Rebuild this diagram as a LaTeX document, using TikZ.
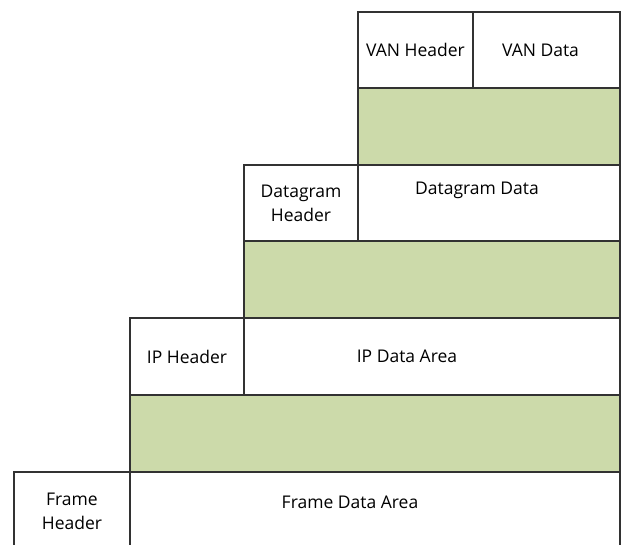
\documentclass[tikz,border=0pt]{standalone}
\usepackage{fontspec}
\setmainfont{Open Sans}
\usetikzlibrary{positioning, calc}
\definecolor{padGreen}{RGB}{204, 218, 170}
\definecolor{lineGray}{RGB}{50, 50, 50}

\begin{document}
\begin{tikzpicture}[x=1pt, y=-1pt,
    cell/.style={draw=lineGray, line width=1.7pt, fill=white, inner sep=0pt, outer sep=0pt,
                 font=\fontsize{17.5}{24}\selectfont, align=center},
    pad/.style={cell, fill=padGreen},
    lbl/.style={font=\fontsize{17.5}{24}\selectfont, inner sep=0pt}]
\clip (0,0) rectangle (623,544);

% VAN
\node[cell, anchor=north west, minimum width=115, minimum height=76] (vanhead) at (358,12) {VAN Header};
\node[cell, anchor=north west, minimum width=147, minimum height=76] (vandata) at (vanhead.north east) {};
\node[lbl] (vandatatxt) at ($(vandata.center)+(-6,0)$) {VAN Data};
\node[pad, anchor=north west, minimum width=262, minimum height=77] (pad1) at (vanhead.south west) {};

% Datagram
\node[cell, anchor=north east, minimum width=114, minimum height=76] (dghead) at (pad1.south west) {Datagram\\Header};
\node[cell, anchor=north west, minimum width=262, minimum height=76] (dgdata) at (dghead.north east) {};
\node[lbl] (dgdatatxt) at ($(dgdata.center)+(-12,-13)$) {Datagram Data};
\node[pad, anchor=north west, minimum width=376, minimum height=77] (pad2) at (dghead.south west) {};

% IP
\node[cell, anchor=north east, minimum width=114, minimum height=77] (iphead) at (pad2.south west) {IP Header};
\node[cell, anchor=north west, minimum width=376, minimum height=77] (ipdata) at (iphead.north east) {};
\node[lbl] (ipdatatxt) at ($(ipdata.center)+(-25,0)$) {IP Data Area};
\node[pad, anchor=north west, minimum width=490, minimum height=77] (pad3) at (iphead.south west) {};

% Frame
\node[cell, anchor=north east, minimum width=116, minimum height=78] (framehead) at (pad3.south west) {Frame\\Header};
\node[cell, anchor=north west, minimum width=490, minimum height=78] (framedata) at (framehead.north east) {};
\node[lbl] (framedatatxt) at ($(framedata.center)+(-25,-9)$) {Frame Data Area};
\end{tikzpicture}
\end{document}
